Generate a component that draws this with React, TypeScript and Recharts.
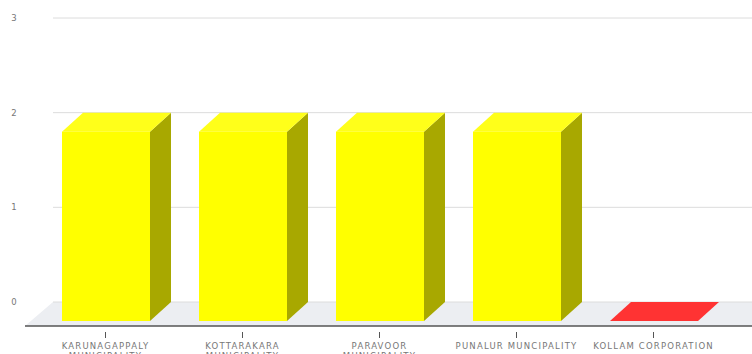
import React from 'react';
import { BarChart, Bar, XAxis, YAxis, CartesianGrid, Cell } from 'recharts';

// data
const bodies = [
  'KARUNAGAPPALY MUNICIPALITY',
  'KOTTARAKARA MUNICIPALITY',
  'PARAVOOR MUNICIPALITY',
  'PUNALUR MUNCIPALITY',
  'KOLLAM CORPORATION',
];
const counts = [2, 2, 2, 2, 0];
const yTicks = [0, 1, 2, 3];

const chartData = bodies.map((name, i) => ({ name, count: counts[i] }));

// styling
const FRONT = ['#ffff00', '#ffff00', '#ffff00', '#ffff00', '#ff3333'];
const SIDE = ['#a8a800', '#a8a800', '#a8a800', '#a8a800', '#b82020'];
const TOP = ['#ffff1a', '#ffff1a', '#ffff1a', '#ffff1a', '#ff3333'];
const DX = 21;
const DY = 19;
const FONT = '"DejaVu Sans", Verdana, sans-serif';

const Bar3D = (props: any) => {
  const { x, y, width, height, index } = props;
  const h = Math.max(0, height || 0);
  const top = `${x},${y} ${x + DX},${y - DY} ${x + width + DX},${y - DY} ${x + width},${y}`;
  const side = `${x + width},${y} ${x + width + DX},${y - DY} ${x + width + DX},${y + h - DY} ${x + width},${y + h}`;
  return (
    <g>
      {h > 0 && <polygon points={side} fill={SIDE[index]} />}
      {h > 0 && <rect x={x} y={y} width={width} height={h} fill={FRONT[index]} />}
      <polygon points={top} fill={TOP[index]} />
    </g>
  );
};

const GridLine = (props: any) => {
  const { x1, x2, y1, index } = props;
  const isBase = Math.abs(y1 - 321) < 1;
  return (
    <g key={`g-${index}`}>
      {isBase && (
        <polygon
          points={`${x1 + 16},${y1 - DY} ${x2 + 40},${y1 - DY} ${x2 + 40},${y1 + 5} ${x1 - 12},${y1 + 5}`}
          fill="#eceef2"
        />
      )}
      <line x1={x1 + 16} x2={x2 + 40} y1={y1 - DY} y2={y1 - DY} stroke="#dcdcdc" strokeWidth={1} />
      {isBase && (
        <line x1={x1 - 12} x2={x2 + 40} y1={y1 + 5} y2={y1 + 5} stroke="#555" strokeWidth={1.5} />
      )}
    </g>
  );
};

const YTick = (props: any) => {
  const { y, payload } = props;
  return (
    <text x={14} y={y - DY + 3} textAnchor="middle" fontSize={8.5} fill="#777" fontFamily={FONT}>
      {payload.value}
    </text>
  );
};

const XTick = (props: any) => {
  const { x, y, payload } = props;
  const label: string = payload.value;
  let lines = [label];
  if (label.length > 20) {
    const cut = label.lastIndexOf(' ');
    lines = [label.slice(0, cut), label.slice(cut + 1)];
  }
  return (
    <g>
      <line x1={x} x2={x} y1={y + 5} y2={y + 11} stroke="#555" strokeWidth={1} />
      {lines.map((l, i) => (
        <text
          key={i}
          x={x}
          y={y + 22 + i * 10}
          textAnchor="middle"
          fontSize={8.5}
          letterSpacing={1.2}
          fill="#777"
          fontFamily={FONT}
        >
          {l}
        </text>
      ))}
    </g>
  );
};

export default function App() {
  return (
    <div style={{ position: 'absolute', left: 0, top: 0, width: 752, height: 354, background: '#fff' }}>
      <BarChart
        width={752}
        height={354}
        data={chartData}
        margin={{ top: 37, right: 30, bottom: 0, left: 0 }}
      >
        <CartesianGrid vertical={false} horizontal={GridLine} />
        <XAxis
          dataKey="name"
          height={33}
          axisLine={false}
          tickLine={false}
          tickMargin={0}
          interval={0}
          tick={XTick}
        />
        <YAxis
          width={37}
          domain={[0, 3]}
          ticks={yTicks}
          axisLine={false}
          tickLine={false}
          tick={YTick}
        />
        <Bar dataKey="count" barSize={88} shape={Bar3D} isAnimationActive={false}>
          {chartData.map((d, i) => (
            <Cell key={d.name} fill={FRONT[i]} />
          ))}
        </Bar>
      </BarChart>
    </div>
  );
}
